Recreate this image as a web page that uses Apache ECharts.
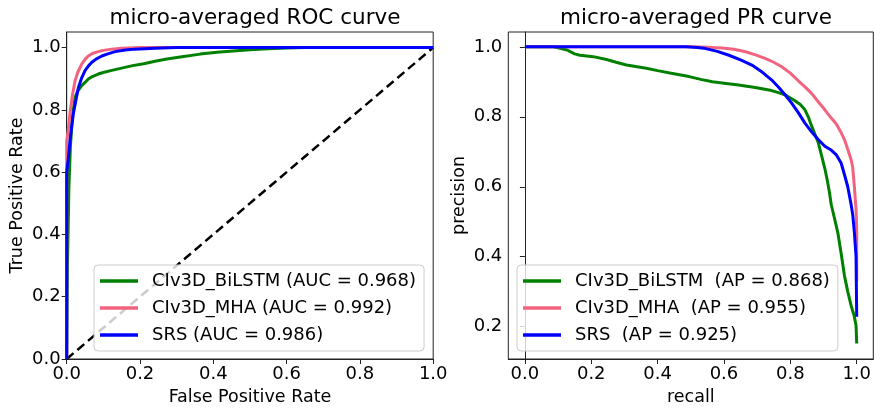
<!DOCTYPE html>
<html>
<head>
<meta charset="utf-8">
<script src="https://cdn.jsdelivr.net/npm/echarts@6/dist/echarts.min.js"></script>
<style>
html,body{margin:0;padding:0;background:#fff;}
#chart{width:875px;height:411px;}
</style>
</head>
<body>
<div id="chart"></div>
<script>
// ---- data ----
const rocNames = ['CIv3D_BiLSTM (AUC = 0.968)', 'CIv3D_MHA (AUC = 0.992)', 'SRS (AUC = 0.986)'];
const prNames = ['CIv3D_BiLSTM  (AP = 0.868)', 'CIv3D_MHA  (AP = 0.955)', 'SRS  (AP = 0.925)'];
const seriesColors = ['#008000', '#f2637f', '#0000ff'];
const tickValues = [0, 0.2, 0.4, 0.6, 0.8, 1.0];
const prYTicks = [0.2, 0.4, 0.6, 0.8, 1.0];

const rocBiLSTM = [[0,0],[0.002,0.3],[0.006,0.55],[0.01,0.68],[0.014,0.75],[0.018,0.8],[0.023,0.84],[0.03,0.86],[0.041,0.878],[0.05,0.888],[0.059,0.899],[0.07,0.907],[0.086,0.915],[0.1,0.92],[0.12,0.926],[0.15,0.934],[0.18,0.942],[0.21,0.948],[0.241,0.956],[0.273,0.963],[0.31,0.97],[0.364,0.979],[0.41,0.985],[0.455,0.989],[0.5,0.993],[0.55,0.996],[0.6,0.999],[0.65,1.0],[1.0,1.0]];
const rocMHA = [[0,0],[0,0.7],[0.004,0.734],[0.01,0.8],[0.016,0.85],[0.023,0.894],[0.03,0.92],[0.041,0.947],[0.05,0.962],[0.059,0.973],[0.07,0.981],[0.086,0.987],[0.1,0.991],[0.123,0.995],[0.15,0.998],[0.2,1.0],[1,1]];
const rocSRS = [[0,0],[0,0.6],[0.005,0.65],[0.009,0.702],[0.014,0.75],[0.018,0.787],[0.025,0.83],[0.032,0.872],[0.04,0.9],[0.05,0.926],[0.06,0.942],[0.068,0.952],[0.08,0.963],[0.096,0.973],[0.11,0.979],[0.132,0.987],[0.16,0.992],[0.186,0.995],[0.24,0.998],[0.3,1.0],[1,1]];
const rocChance = [[0,0],[1,1]];

const prBiLSTM = [[0,1],[0.087,1],[0.1,0.997],[0.127,0.991],[0.15,0.98],[0.166,0.976],[0.206,0.972],[0.246,0.964],[0.275,0.956],[0.306,0.948],[0.366,0.939],[0.4,0.932],[0.445,0.924],[0.495,0.915],[0.53,0.907],[0.565,0.9],[0.6,0.896],[0.644,0.891],[0.694,0.884],[0.744,0.875],[0.764,0.869],[0.784,0.863],[0.814,0.846],[0.83,0.835],[0.844,0.82],[0.854,0.8],[0.864,0.774],[0.874,0.75],[0.884,0.727],[0.894,0.69],[0.904,0.652],[0.912,0.615],[0.918,0.583],[0.923,0.55],[0.933,0.51],[0.943,0.469],[0.953,0.41],[0.963,0.346],[0.973,0.3],[0.983,0.261],[0.992,0.232],[0.998,0.204],[1.0,0.152]];
const prMHA = [[0,1],[0.3,1],[0.505,1.0],[0.55,0.999],[0.595,0.997],[0.63,0.993],[0.665,0.986],[0.695,0.977],[0.724,0.967],[0.75,0.956],[0.774,0.943],[0.8,0.925],[0.824,0.903],[0.845,0.885],[0.864,0.867],[0.884,0.843],[0.904,0.82],[0.92,0.8],[0.938,0.78],[0.953,0.755],[0.963,0.735],[0.973,0.707],[0.983,0.678],[0.988,0.655],[0.993,0.6],[0.996,0.56],[0.998,0.536],[1.0,0.48],[1.0,0.33]];
const prSRS = [[0,1],[0.3,1],[0.485,1.0],[0.52,0.998],[0.545,0.995],[0.58,0.987],[0.615,0.976],[0.65,0.963],[0.684,0.948],[0.715,0.928],[0.744,0.905],[0.764,0.885],[0.784,0.863],[0.804,0.839],[0.824,0.812],[0.844,0.782],[0.864,0.757],[0.884,0.735],[0.904,0.716],[0.923,0.705],[0.938,0.692],[0.953,0.668],[0.963,0.635],[0.973,0.6],[0.983,0.55],[0.988,0.52],[0.993,0.469],[0.998,0.4],[1.0,0.228]];

// ---- chart ----
const FONT = 'DejaVu Sans';
const frameColor = '#222';
function axisCommon(name, ticks, extra) {
  return Object.assign({
    type: 'value',
    name: name,
    nameLocation: 'middle',
    nameTextStyle: {fontFamily: FONT, fontSize: 17.5, color: '#000'},
    axisLine: {show: true, lineStyle: {color: frameColor, width: 1}},
    axisTick: {show: true, inside: false, length: 5, lineStyle: {color: frameColor}, customValues: ticks},
    axisLabel: {show: true, fontFamily: FONT, fontSize: 18, color: '#000', margin: 6,
      customValues: ticks, formatter: v => v.toFixed(1)},
    splitLine: {show: false}
  }, extra);
}

const chart = echarts.init(document.getElementById('chart'), null, {renderer: 'canvas'});
const legendCommon = {
  orient: 'vertical', icon: 'rect', itemWidth: 38, itemHeight: 3.5, itemGap: 7,
  backgroundColor: 'rgba(255,255,255,0.8)', borderColor: '#cccccc', borderWidth: 1, borderRadius: 4,
  textStyle: {fontFamily: FONT, fontSize: 18, color: '#000', lineHeight: 20, padding: [0,0,0,9]},
  selectedMode: false
};
function lineSeries(name, data, color, xi) {
  return {type: 'line', name: name, data: data, xAxisIndex: xi, yAxisIndex: xi,
    showSymbol: false, symbol: 'none', animation: false,
    lineStyle: {color: color, width: 3}, itemStyle: {color: color}, z: 3};
}
const option = {
  backgroundColor: '#fff',
  animation: false,
  title: [
    {text: 'micro-averaged ROC curve', left: 250, top: 2, textAlign: 'center',
      textStyle: {fontFamily: FONT, fontSize: 21.5, fontWeight: 'normal', color: '#000'}},
    {text: 'micro-averaged PR curve', left: 691, top: 2, textAlign: 'center',
      textStyle: {fontFamily: FONT, fontSize: 21.5, fontWeight: 'normal', color: '#000'}}
  ],
  grid: [
    {left: 66.7, top: 32, width: 366.5, height: 328, show: true, borderColor: frameColor, borderWidth: 1, backgroundColor: 'transparent'},
    {left: 508.3, top: 32, width: 365, height: 328, show: true, borderColor: frameColor, borderWidth: 1, backgroundColor: 'transparent'}
  ],
  xAxis: [
    axisCommon('False Positive Rate', tickValues, {gridIndex: 0, min: 0, max: 1, nameGap: 29}),
    axisCommon('recall', tickValues, {gridIndex: 1, min: -0.05, max: 1.05, nameGap: 29})
  ],
  yAxis: [
    axisCommon('True Positive Rate', tickValues, {gridIndex: 0, min: 0, max: 1.05, nameGap: 40}),
    axisCommon('precision', prYTicks, {gridIndex: 1, min: 0.1075, max: 1.0425, nameGap: 40})
  ],
  legend: [
    Object.assign({}, legendCommon, {data: rocNames, left: 94, top: 265, padding: [6, 8, 6, 6]}),
    Object.assign({}, legendCommon, {data: prNames, left: 517, top: 265, padding: [6, 8, 6, 6]})
  ],
  series: [
    {type: 'line', name: 'chance', data: rocChance, xAxisIndex: 0, yAxisIndex: 0, showSymbol: false, symbol: 'none',
      lineStyle: {color: '#000', width: 2.5, type: [9, 5]}, z: 2, silent: true},
    lineSeries(rocNames[0], rocBiLSTM, seriesColors[0], 0),
    lineSeries(rocNames[1], rocMHA, seriesColors[1], 0),
    lineSeries(rocNames[2], rocSRS, seriesColors[2], 0),
    lineSeries(prNames[0], prBiLSTM, seriesColors[0], 1),
    lineSeries(prNames[1], prMHA, seriesColors[1], 1),
    lineSeries(prNames[2], prSRS, seriesColors[2], 1)
  ]
};
chart.setOption(option);
</script>
</body>
</html>
